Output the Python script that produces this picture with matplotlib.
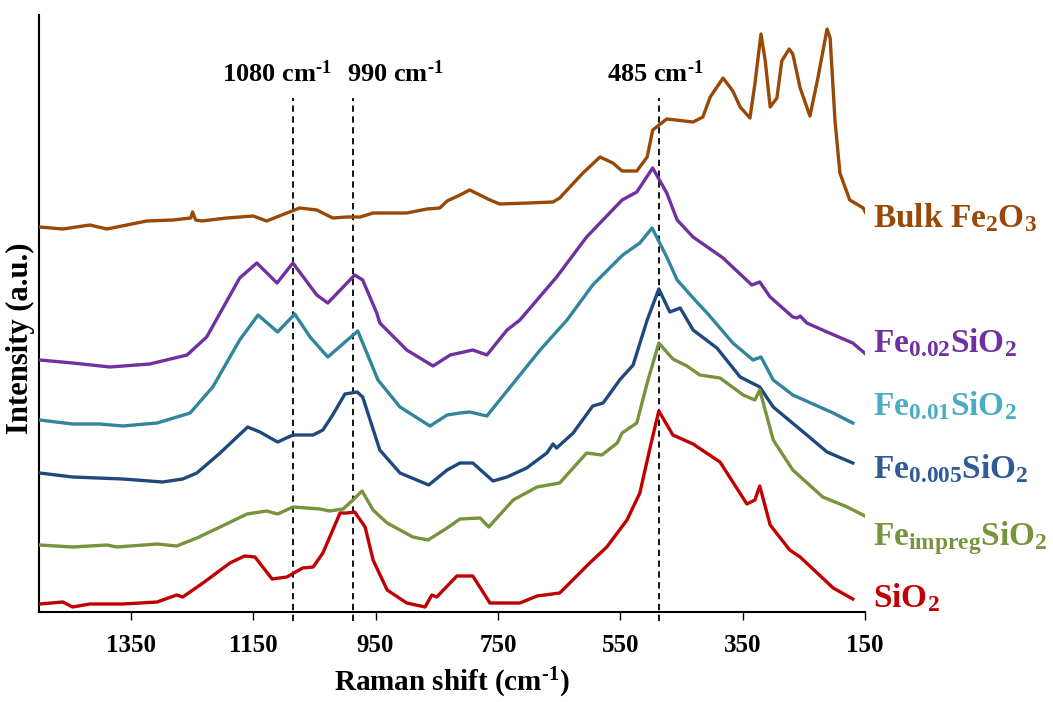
import matplotlib
matplotlib.use("Agg")
import matplotlib.pyplot as plt

plt.rcParams['font.family'] = ['Liberation Serif', 'DejaVu Serif']
plt.rcParams['font.weight'] = 'bold'
plt.rcParams['mathtext.fontset'] = 'custom'
plt.rcParams['mathtext.rm'] = 'Liberation Serif:bold'
plt.rcParams['mathtext.bf'] = 'Liberation Serif:bold'
plt.rcParams['mathtext.default'] = 'regular'

# Raman shift (cm-1) and offset intensity (a.u.)
bulk_x = [1499, 1461, 1417, 1389, 1324, 1281, 1252, 1249, 1244, 1234, 1193, 1150, 1128, 1095,
          1074, 1046, 1020, 997, 975, 954, 899, 866, 845, 833, 812, 796, 763, 747, 700, 660,
          649, 611, 583, 562, 547, 523, 506, 497, 474, 431, 415, 403, 382, 366, 354, 338,
          330, 320, 313, 305, 294, 286, 274, 268, 256, 240, 227, 212, 207, 199, 191, 175,
          161, 153, 147]
bulk_y = [386, 384, 388, 384, 392, 393, 395, 401, 393, 392, 395, 397, 392, 400,
          405, 403, 395, 396, 396, 400, 400, 404, 405, 412, 418, 423, 413, 409, 410, 411,
          415, 440, 456, 450, 442, 442, 456, 483, 494, 491, 496, 516, 535, 522, 506, 495,
          529, 579, 552, 506, 515, 552, 564, 559, 525, 497, 535, 584, 575, 492, 440, 413,
          408, 405, 398]

fe002_x = [1499, 1445, 1384, 1319, 1258, 1226, 1204, 1172, 1144, 1111, 1085, 1046, 1028, 984,
           971, 948, 943, 899, 856, 828, 791, 768, 735, 714, 654, 605, 547, 523, 497, 474,
           457, 431, 382, 335, 322, 305, 268, 261, 256, 245, 212, 170, 147]
fe002_y = [253, 250, 246, 249, 258, 276, 300, 335, 350, 330, 350, 318, 310, 338,
           333, 300, 290, 263, 247, 258, 263, 258, 283, 293, 336, 376, 413, 421, 445, 420,
           393, 376, 355, 328, 331, 316, 296, 295, 297, 290, 281, 270, 258]

fe001_x = [1499, 1445, 1401, 1363, 1307, 1253, 1216, 1172, 1142, 1110, 1082, 1057, 1028, 979,
           946, 910, 861, 833, 812, 796, 768, 747, 681, 637, 595, 546, 518, 498, 474, 457,
           425, 408, 366, 333, 320, 300, 268, 202, 170]
fe001_y = [193, 189, 189, 187, 190, 200, 226, 273, 298, 281, 299, 276, 256, 282,
           233, 206, 187, 198, 200, 201, 197, 213, 263, 293, 328, 358, 370, 385, 356, 333,
           311, 300, 270, 253, 256, 233, 218, 200, 190]

fe0005_x = [1499, 1445, 1363, 1298, 1265, 1242, 1204, 1159, 1139, 1110, 1085, 1052, 1036, 1020,
            1000, 980, 971, 943, 910, 863, 833, 812, 791, 758, 735, 703, 670, 660, 654, 627,
            595, 578, 551, 529, 506, 487, 469, 452, 431, 392, 354, 322, 300, 245, 212, 170]
fe0005_y = [140, 136, 134, 131, 134, 140, 160, 186, 181, 171, 178, 178, 183, 198,
            219, 221, 216, 163, 140, 128, 143, 150, 150, 132, 136, 145, 160, 169, 165, 180,
            207, 210, 233, 248, 293, 324, 301, 305, 283, 265, 236, 226, 206, 178, 161, 150]

impreg_x = [1499, 1445, 1389, 1373, 1307, 1275, 1242, 1204, 1160, 1128, 1110, 1085, 1041, 1025,
            1003, 987, 972, 954, 931, 889, 864, 833, 812, 779, 765, 725, 686, 649, 605, 580,
            555, 547, 523, 506, 487, 464, 441, 420, 387, 349, 330, 322, 300, 268, 219, 179, 147]
impreg_y = [68, 66, 68, 66, 69, 67, 75, 86, 99, 102, 99, 106, 104, 102,
            104, 113, 122, 103, 90, 76, 73, 85, 94, 95, 86, 113, 126, 130, 160, 158,
            170, 180, 190, 230, 270, 254, 247, 238, 235, 218, 213, 223, 173, 143, 116, 106, 96]

sio2_x = [1499, 1461, 1445, 1417, 1363, 1307, 1275, 1265, 1232, 1188, 1164, 1147, 1119, 1095,
          1069, 1052, 1036, 1008, 997, 984, 967, 954, 931, 899, 869, 858, 850, 817, 791, 763,
          714, 686, 649, 600, 572, 539, 518, 501, 487, 464, 431, 387, 343, 330, 322, 305,
          273, 256, 202, 170]
sio2_y = [9, 11, 6, 9, 9, 11, 18, 16, 30, 50, 57, 56, 34, 36,
          45, 46, 60, 100, 100, 101, 86, 53, 23, 10, 6, 18, 16, 37, 37, 10,
          10, 17, 20, 50, 66, 93, 120, 166, 202, 178, 169, 151, 109, 113, 127, 88,
          63, 56, 25, 14]

peak_pos = [1085, 987, 487]
peak_labels = [r'1080 cm$^{\text{-}1}$', r'990 cm$^{\text{-}1}$', r'485 cm$^{\text{-}1}$']
label_x = [1201, 997, 572]

series = [
    (bulk_x, bulk_y, '#984807', '#984807', 'Bulk Fe$_2$O$_3$', 227),
    (fe002_x, fe002_y, '#7030A0', '#7030A0', 'Fe$_{0.02}$SiO$_2$', 352),
    (fe001_x, fe001_y, '#31859C', '#4BACC6', 'Fe$_{0.01}$SiO$_2$', 415),
    (fe0005_x, fe0005_y, '#1F497D', '#2F5B96', 'Fe$_{0.005}$SiO$_2$', 478),
    (impreg_x, impreg_y, '#77933C', '#77933C', 'Fe$_{impreg}$SiO$_2$', 545),
    (sio2_x, sio2_y, '#C00000', '#C00000', 'SiO$_2$', 607),
]

fig = plt.figure(figsize=(10.53, 7.02), dpi=100)
ax = fig.add_axes([39 / 1053, (702 - 612) / 702, (865 - 39) / 1053, (612 - 15) / 702])

for xs, ys, lc, tc, name, base_px in series:
    ax.plot(xs, ys, color=lc, lw=2.4, solid_joinstyle='round', zorder=3)
    fig.text(873 / 1053, (702 - base_px) / 702, name, color=tc, fontsize=24,
             fontweight='bold', ha='left', va='baseline')

ax.vlines(peak_pos, -8, 515, colors='black', linestyles=(0, (3.5, 2.5)), lw=1.3,
          clip_on=False, zorder=2)
for lx, lab in zip(label_x, peak_labels):
    ax.text(lx, 531, lab, fontsize=19, fontweight='bold', ha='left', va='baseline')

ax.set_xlim(1500, 150)
ax.set_ylim(1, 598)
ax.set_xticks([1350, 1150, 950, 750, 550, 350, 150])
ax.set_yticks([])
ax.tick_params(axis='x', direction='out', length=6, width=1, labelsize=18, pad=10)
for lab in ax.get_xticklabels():
    lab.set_fontweight('bold')
ax.spines['top'].set_visible(False)
ax.spines['right'].set_visible(False)
ax.spines['left'].set_linewidth(1.5)
ax.spines['bottom'].set_linewidth(1.5)

ax.set_xlabel(r'Raman shift (cm$^{\text{-}1}$)', fontsize=21, fontweight='bold')
ax.xaxis.set_label_coords(0.5, -0.09)
ax.set_ylabel('Intensity (a.u.)', fontsize=22, fontweight='bold')
ax.yaxis.set_label_coords(-0.005, 0.459)

fig.savefig('out.png', dpi=100)
